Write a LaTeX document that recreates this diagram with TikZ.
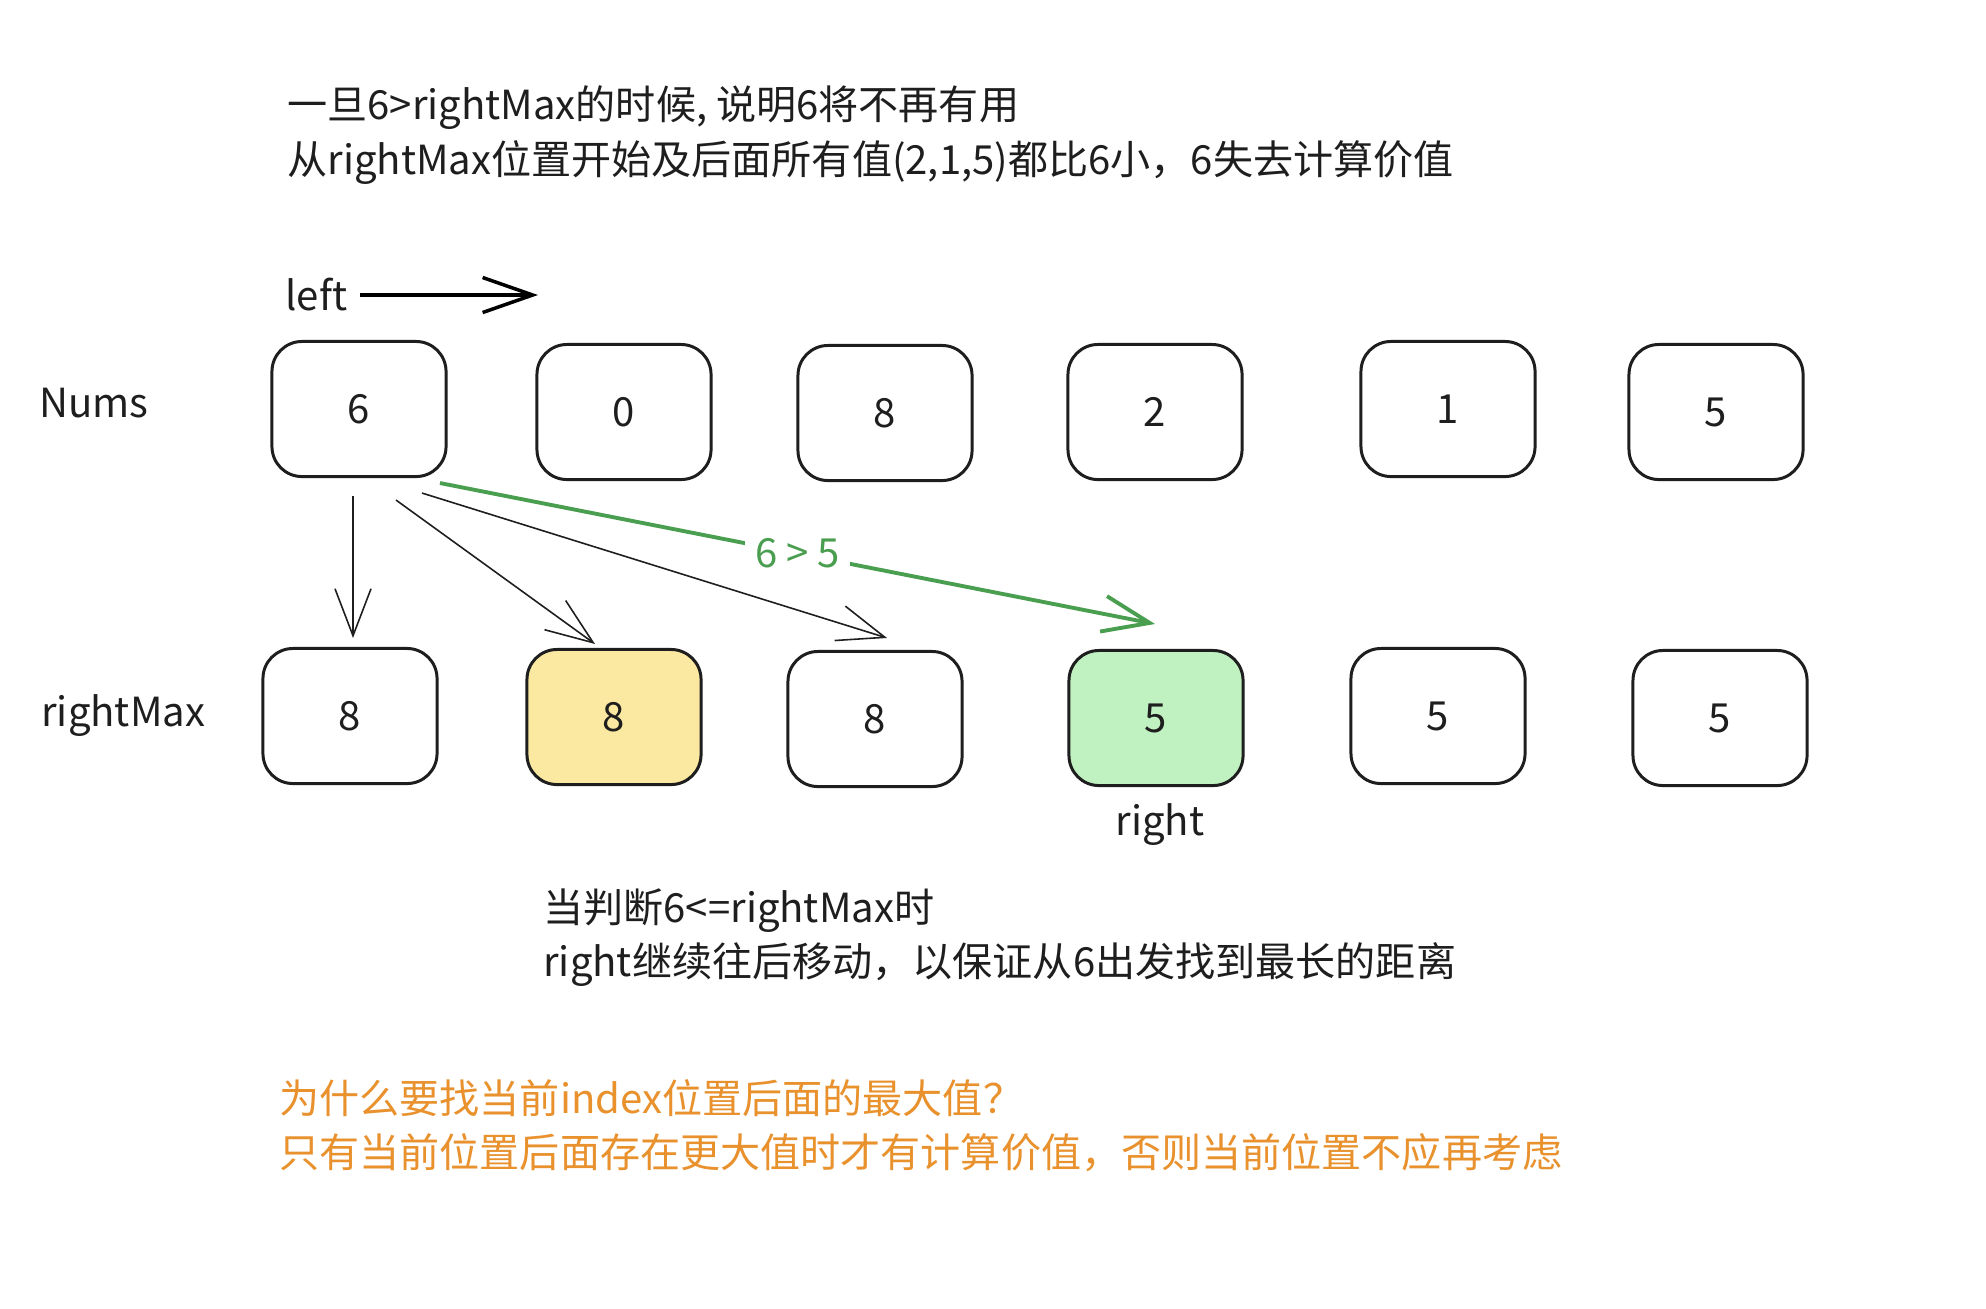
\documentclass[tikz,border=0pt]{standalone}
\usepackage{fontspec}
\setmainfont{Noto Sans CJK SC}
\usetikzlibrary{arrows.meta,calc}
\definecolor{inkblack}{HTML}{1E1E1E}
\definecolor{okgreen}{HTML}{4A9E4F}
\definecolor{noteorange}{HTML}{E8912D}
\definecolor{fillyellow}{HTML}{FBE9A2}
\definecolor{fillgreen}{HTML}{C0F1C0}
\tikzset{
  cell/.style={draw=inkblack, line width=0.85pt, rounded corners=0.3cm,
    minimum width=1.74cm, minimum height=1.35cm,
    font=\fontsize{11.4}{13}\selectfont, text=inkblack},
  lbl/.style={font=\fontsize{11.4}{13}\selectfont, text=inkblack},
  note/.style={anchor=west, align=left, font=\fontsize{11.4}{15.4}\selectfont, text=inkblack},
  probe/.style={-{Straight Barb[length=0.47cm,width=0.36cm]}, line width=0.45pt, draw=inkblack},
}
\begin{document}
\begin{tikzpicture}[x=0.01cm, y=-0.01cm]
    \fill[white] (0,0) rectangle (1986,1308);
    \useasboundingbox (0,0) rectangle (1986,1308);

    % Notes
    \node[note] (top) at (275,135) {一旦6>rightMax的时候, 说明6将不再有用\\从rightMax位置开始及后面所有值(2,1,5)都比6小，6失去计算价值};
    \node[note] (mid) at (531,938) {当判断6<=rightMax时\\right继续往后移动，以保证从6出发找到最长的距离};
    \node[note, text=noteorange] (why) at (267,1126) {为什么要找当前index位置后面的最大值？\\只有当前位置后面存在更大值时才有计算价值，否则当前位置不应再考虑};

    % Labels
    \node[lbl, anchor=west] (nums) at (27,403) {Nums};
    \node[lbl, anchor=west] (rmax) at (29,716) {rightMax};
    \node[lbl, anchor=west] (left) at (273,295) {left};
    \coordinate (leftend) at (538,295);

    % Nums row
    \node[cell] (a1) at (359,409) {6};
    \node[cell] (a2) at (624,412) {0};
    \node[cell] (a3) at (885,413) {8};
    \node[cell] (a4) at (1155,412) {2};
    \node[cell] (a5) at (1448,409) {1};
    \node[cell] (a6) at (1716,412) {5};

    % rightMax row
    \node[cell] (r1) at (350,716) {8};
    \node[cell, fill=fillyellow] (r2) at (614,717) {8};
    \node[cell] (r3) at (875,719) {8};
    \node[cell, fill=fillgreen] (r4) at (1156,718) {5};
    \node[cell] (r5) at (1438,716) {5};
    \node[cell] (r6) at (1720,718) {5};
    \node[lbl] (rt) at (1160,825) {right};

    % Edges
    \draw[line width=1pt, -{Straight Barb[length=0.5cm,width=0.35cm]}] (left) -- (leftend);
    \draw[probe] ($(a1.south)+(-6,18)$) -- ($(r1.north)+(3,-9)$);
    \draw[probe] ($(a1.south)+(37,22)$) -- ($(r2.north)+(-19,-4)$);
    \draw[probe] ($(a1.south)+(63,15)$) -- ($(r3.north)+(12,-12)$);
    \draw[probe, draw=okgreen, line width=1.1pt] ($(a1.south)+(81,5)$)
        -- node[lbl, fill=white, text=okgreen, inner sep=2.8pt] (cmp) {6 > 5} ($(r4.north)+(-1,-25)$);
\end{tikzpicture}
\end{document}
